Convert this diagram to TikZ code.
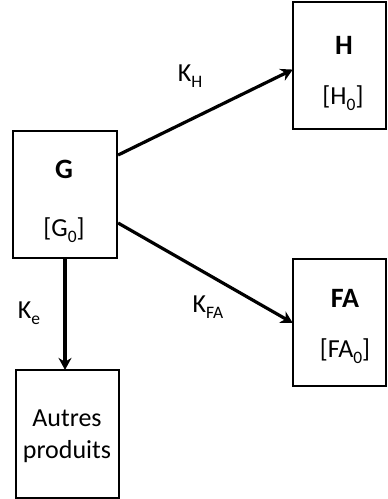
\documentclass[tikz,border=0pt]{standalone}
\usepackage{fontspec}
\setmainfont{Carlito}
\usetikzlibrary{arrows.meta}
\newcommand{\mysub}[1]{\raisebox{-0.22em}{\fontsize{17.5}{17.5}\selectfont #1}}
\begin{document}
\begin{tikzpicture}[x=1pt,y=-1pt,
  box/.style={draw=black,line width=2.2pt,minimum width=#1,inner sep=0pt},
  txt/.style={font=\fontsize{26}{32}\selectfont,inner sep=0pt,align=center},
  btxt/.style={font=\fontsize{28}{32}\selectfont\bfseries,inner sep=0pt},
  conn/.style={line width=3.2pt,-{Stealth[length=12pt,width=13pt,inset=4pt]},shorten >=-1pt},
  lbl/.style={font=\fontsize{26}{32}\selectfont,inner sep=0pt}]
\useasboundingbox (0,0) rectangle (388,499);
\fill[white] (0,0) rectangle (388,499);
% boxes
\node[box=104pt,minimum height=127pt] (G) at (65,194.5) {};
\node[box=93pt,minimum height=127pt] (H) at (339.5,65.5) {};
\node[box=93pt,minimum height=127pt] (FA) at (339.5,322.5) {};
\node[box=103pt,minimum height=128pt] (A) at (67.5,434) {};
% texts
\node[btxt] (Gt) at (64,169) {G};
\node[txt] (Gs) at (64,230) {[G\mysub{0}]};
\node[btxt] (Ht) at (344,45) {H};
\node[txt] (Hs) at (343,98) {[H\mysub{0}]};
\node[btxt] (FAt) at (345,298) {FA};
\node[txt] (FAs) at (345,351) {[FA\mysub{0}]};
\node[txt] (At) at (67,436) {Autres\\produits};
% connectors
\draw[conn] ([yshift=39.5pt]G.east) -- ([yshift=-4.5pt]H.west);
\draw[conn] ([yshift=-28.5pt]G.east) -- ([yshift=0pt]FA.west);
\draw[conn] (G.south) -- (G.south |- A.north);
% labels
\node[lbl] (kh) at (190,76) {K\mysub{H}};
\node[lbl] (kfa) at (208,307) {K\mysub{FA}};
\node[lbl] (ke) at (29,313) {K\mysub{e}};
\end{tikzpicture}
\end{document}
